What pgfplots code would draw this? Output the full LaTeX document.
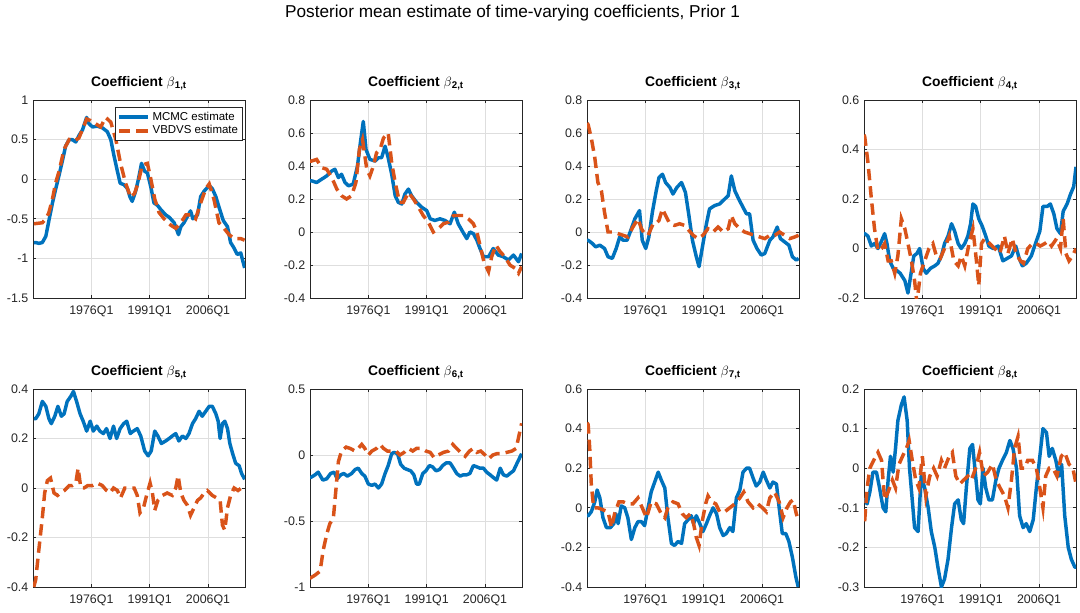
\documentclass[border=0pt]{standalone}
\usepackage{fontspec}
\setmainfont{Liberation Sans}
\usepackage{pgfplots}
\pgfplotsset{compat=1.18}
\definecolor{mblue}{rgb}{0,0.447,0.741}
\definecolor{morange}{rgb}{0.85,0.325,0.098}
\definecolor{axgray}{rgb}{0.15,0.15,0.15}
\definecolor{gridgray}{rgb}{0.87,0.87,0.87}
\pgfplotsset{
  coef/.style={
    scale only axis, width=159pt, height=148.5pt,
    xmin=1961, xmax=2015.5,
    xtick={1976,1991,2006}, xticklabels={1976Q1,1991Q1,2006Q1},
    grid=major, major grid style={gridgray, line width=0.5pt},
    axis line style={axgray, line width=0.6pt},
    every tick/.style={axgray, line width=0.5pt},
    tick align=inside, major tick length=2pt,
    ticklabel style={font=\fontsize{9.3}{10}\selectfont, text=axgray},
    xticklabel style={yshift=-2pt},
    /pgf/number format/assume math mode=true,
    yticklabel style={/pgf/number format/fixed},
    every axis title/.style={at={(0.5,1)}, anchor=base, yshift=10.5pt, font=\bfseries\fontsize{10.4}{12}\selectfont},
  },
  mc/.style={mblue, line width=2.6pt, no markers, line join=round},
  vb/.style={morange, line width=2.6pt, no markers, dash pattern=on 8.5pt off 4.5pt},
}
\begin{document}
\begin{tikzpicture}
\useasboundingbox (0,0) rectangle (810pt,459pt);
\node[anchor=base, font=\fontsize{12.9}{14}\selectfont] at (384.4pt,445.5pt) {Posterior mean estimate of time-varying coefficients, Prior 1};

% ---------- Plot 1
\begin{axis}[coef, at={(24.75pt,235.5pt)}, anchor=south west,
  ymin=-1.5, ymax=1, ytick={-1.5,-1,-0.5,0,0.5,1},
  title={Coefficient $\beta$\textsubscript{1,t}},
  legend style={at={(1,1)}, anchor=north east, xshift=-1.5pt, yshift=-5.25pt, draw=axgray, line width=0.5pt, font=\fontsize{8.6}{9.5}\selectfont, inner sep=1.5pt, row sep=-1.5pt},
  legend cell align=left,
  legend image code/.code={\draw[#1] (0pt,0pt) -- (22pt,0pt);}]
\addplot[mc] coordinates {(1961.2,-0.80)(1961.7,-0.80)(1962.5,-0.81)(1963.4,-0.80)(1964.3,-0.72)(1965.1,-0.52)(1966.0,-0.30)(1966.8,-0.13)(1967.7,0.05)(1968.5,0.22)(1969.4,0.42)(1970.3,0.50)(1971.1,0.50)(1972.0,0.47)(1972.8,0.55)(1973.7,0.62)(1974.8,0.78)(1975.4,0.70)(1976.3,0.66)(1977.5,0.67)(1978.8,0.65)(1980.1,0.60)(1981.0,0.50)(1981.8,0.30)(1982.7,0.10)(1983.4,-0.05)(1984.4,-0.07)(1985.3,-0.12)(1985.9,-0.22)(1986.5,-0.28)(1987.4,-0.15)(1988.1,0.00)(1988.9,0.20)(1989.7,0.10)(1990.4,0.08)(1991.3,-0.10)(1992.1,-0.30)(1993.0,-0.33)(1993.8,-0.38)(1995.1,-0.45)(1996.0,-0.48)(1997.3,-0.55)(1998.4,-0.70)(1999.0,-0.60)(1999.8,-0.55)(2000.7,-0.47)(2001.5,-0.40)(2002.1,-0.50)(2003.3,-0.45)(2004.1,-0.22)(2005.0,-0.15)(2006.3,-0.08)(2007.1,-0.12)(2008.0,-0.22)(2008.8,-0.35)(2009.9,-0.52)(2011.0,-0.60)(2011.8,-0.80)(2012.7,-0.87)(2013.5,-0.95)(2014.4,-0.93)(2015.4,-1.12)};
\addplot[vb] coordinates {(1961.2,-0.56)(1961.7,-0.56)(1963.4,-0.55)(1964.3,-0.50)(1965.1,-0.42)(1966.0,-0.25)(1966.8,-0.05)(1967.7,0.10)(1969.0,0.38)(1970.3,0.50)(1971.5,0.48)(1972.8,0.52)(1973.9,0.65)(1974.8,0.76)(1975.8,0.74)(1977.1,0.70)(1978.4,0.66)(1979.7,0.78)(1981.0,0.72)(1982.3,0.50)(1983.5,0.20)(1984.8,-0.05)(1986.1,-0.23)(1987.1,-0.18)(1988.0,-0.05)(1989.1,0.18)(1990.4,0.20)(1991.3,0.00)(1992.3,-0.25)(1993.4,-0.42)(1994.7,-0.50)(1996.4,-0.58)(1997.7,-0.62)(1999.0,-0.55)(2000.3,-0.45)(2001.5,-0.45)(2002.8,-0.50)(2004.1,-0.30)(2005.4,-0.12)(2006.3,-0.06)(2007.5,-0.25)(2008.8,-0.55)(2010.1,-0.62)(2011.4,-0.70)(2012.7,-0.75)(2014.4,-0.75)(2015.4,-0.77)};
\legend{MCMC estimate, VBDVS estimate}
\end{axis}

% ---------- Plot 2
\begin{axis}[coef, at={(232.5pt,235.5pt)}, anchor=south west,
  ymin=-0.4, ymax=0.8, ytick={-0.4,-0.2,0,0.2,0.4,0.6,0.8},
  title={Coefficient $\beta$\textsubscript{2,t}}]
\addplot[mc] coordinates {(1961.0,0.31)(1961.4,0.31)(1962.7,0.30)(1964.0,0.32)(1965.3,0.34)(1966.6,0.37)(1967.4,0.38)(1968.3,0.33)(1969.1,0.35)(1970.0,0.30)(1970.9,0.28)(1972.1,0.29)(1973.2,0.40)(1974.0,0.55)(1974.7,0.67)(1975.4,0.50)(1976.4,0.44)(1977.7,0.43)(1978.6,0.45)(1979.4,0.45)(1980.3,0.52)(1981.1,0.45)(1982.0,0.35)(1982.9,0.22)(1983.7,0.18)(1984.6,0.17)(1985.4,0.23)(1986.3,0.26)(1987.1,0.22)(1988.4,0.18)(1989.7,0.15)(1991.0,0.13)(1991.9,0.08)(1993.1,0.07)(1994.4,0.08)(1995.7,0.07)(1997.0,0.05)(1998.1,0.12)(1999.1,0.05)(2000.3,0.00)(2001.3,-0.04)(2002.1,0.00)(2003.0,-0.01)(2003.9,-0.05)(2004.7,-0.10)(2005.6,-0.15)(2006.9,-0.15)(2008.1,-0.10)(2009.4,-0.14)(2010.7,-0.15)(2012.0,-0.17)(2013.3,-0.14)(2014.6,-0.18)(2015.4,-0.13)};
\addplot[vb] coordinates {(1961.0,0.43)(1961.4,0.43)(1962.7,0.44)(1964.0,0.39)(1965.3,0.38)(1966.6,0.33)(1967.9,0.26)(1969.1,0.22)(1970.4,0.20)(1971.7,0.22)(1972.8,0.30)(1973.7,0.50)(1974.5,0.56)(1975.6,0.38)(1976.4,0.34)(1977.3,0.40)(1978.1,0.48)(1979.0,0.50)(1979.9,0.57)(1981.1,0.60)(1982.0,0.42)(1982.9,0.30)(1984.0,0.18)(1985.0,0.18)(1986.3,0.24)(1987.6,0.20)(1988.9,0.15)(1990.1,0.10)(1991.4,0.06)(1992.7,0.00)(1994.0,0.02)(1995.3,0.05)(1996.6,0.06)(1997.9,0.10)(1999.1,0.10)(2000.4,0.10)(2001.7,0.08)(2003.0,0.05)(2003.9,0.00)(2004.7,-0.08)(2005.7,-0.18)(2006.9,-0.24)(2007.7,-0.15)(2008.8,-0.08)(2009.9,-0.12)(2011.1,-0.15)(2012.4,-0.20)(2013.7,-0.22)(2014.6,-0.25)(2015.4,-0.21)};
\end{axis}

% ---------- Plot 3
\begin{axis}[coef, at={(440.25pt,235.5pt)}, anchor=south west,
  ymin=-0.4, ymax=0.8, ytick={-0.4,-0.2,0,0.2,0.4,0.6,0.8},
  title={Coefficient $\beta$\textsubscript{3,t}}]
\addplot[mc] coordinates {(1961.0,-0.05)(1961.3,-0.05)(1962.4,-0.07)(1963.2,-0.09)(1964.3,-0.08)(1965.5,-0.10)(1966.4,-0.15)(1967.5,-0.16)(1968.5,-0.10)(1969.4,-0.03)(1970.3,-0.05)(1971.3,-0.05)(1972.1,0.00)(1973.3,0.08)(1974.5,0.13)(1975.2,-0.05)(1976.1,-0.10)(1976.9,-0.03)(1977.8,0.12)(1978.8,0.25)(1979.5,0.33)(1980.4,0.35)(1981.2,0.30)(1982.3,0.27)(1983.1,0.23)(1984.1,0.27)(1985.3,0.30)(1986.3,0.24)(1987.2,0.10)(1988.1,-0.05)(1989.1,-0.15)(1989.8,-0.21)(1990.6,-0.10)(1991.7,0.05)(1992.5,0.14)(1993.8,0.16)(1995.1,0.17)(1996.4,0.20)(1997.3,0.22)(1998.1,0.34)(1999.0,0.25)(2000.0,0.20)(2001.1,0.15)(2002.0,0.11)(2002.8,0.11)(2003.7,-0.05)(2004.7,-0.10)(2005.8,-0.14)(2006.7,-0.13)(2008.0,-0.05)(2008.8,-0.03)(2009.9,0.03)(2010.7,-0.04)(2011.8,-0.06)(2012.9,-0.08)(2013.8,-0.15)(2014.8,-0.17)(2015.4,-0.16)};
\addplot[vb] coordinates {(1961.0,0.66)(1961.3,0.65)(1962.1,0.57)(1963.0,0.45)(1963.8,0.30)(1964.7,0.25)(1965.5,0.12)(1966.4,0.00)(1967.7,0.00)(1969.0,-0.01)(1970.3,-0.02)(1971.5,-0.03)(1972.8,0.03)(1974.1,0.08)(1975.0,0.02)(1975.8,-0.01)(1976.7,-0.02)(1978.0,0.05)(1978.7,0.05)(1979.5,0.07)(1980.4,0.14)(1981.2,0.10)(1982.3,0.05)(1983.5,0.04)(1984.8,0.05)(1986.1,0.04)(1987.2,0.01)(1988.3,-0.02)(1989.5,-0.04)(1990.8,-0.02)(1992.1,0.02)(1993.4,0.00)(1994.7,0.03)(1996.0,0.00)(1997.3,0.02)(1998.1,0.10)(1999.0,0.05)(2000.3,0.02)(2001.5,0.00)(2002.8,-0.01)(2004.1,-0.02)(2005.4,-0.03)(2006.7,-0.04)(2008.0,-0.02)(2009.3,-0.02)(2010.5,0.00)(2011.8,-0.02)(2013.1,-0.04)(2014.4,-0.03)(2015.4,-0.02)};
\end{axis}

% ---------- Plot 4
\begin{axis}[coef, at={(648pt,235.5pt)}, anchor=south west,
  ymin=-0.2, ymax=0.6, ytick={-0.2,0,0.2,0.4,0.6},
  title={Coefficient $\beta$\textsubscript{4,t}}]
\addplot[mc] coordinates {(1961.0,0.06)(1961.2,0.06)(1962.0,0.05)(1962.9,0.01)(1963.7,0.02)(1964.6,0.00)(1965.5,0.03)(1966.3,0.06)(1966.9,0.02)(1967.6,-0.05)(1968.5,-0.08)(1969.5,-0.09)(1970.3,-0.10)(1971.5,-0.13)(1972.3,-0.18)(1972.9,-0.12)(1973.8,-0.03)(1974.6,-0.02)(1975.3,0.00)(1976.2,-0.08)(1977.0,-0.10)(1978.1,-0.08)(1979.2,-0.07)(1980.0,-0.06)(1980.9,-0.03)(1981.7,0.02)(1982.6,0.05)(1983.5,0.10)(1984.3,0.07)(1985.2,0.02)(1986.0,0.00)(1986.9,0.02)(1987.7,0.05)(1988.4,0.10)(1989.0,0.18)(1989.7,0.17)(1990.5,0.12)(1991.4,0.09)(1992.3,0.05)(1993.1,0.01)(1994.2,0.00)(1995.5,0.01)(1996.7,-0.05)(1997.8,-0.04)(1998.9,-0.03)(2000.0,0.01)(2000.9,-0.04)(2001.7,-0.07)(2002.7,-0.06)(2004.0,-0.03)(2005.3,0.03)(2006.2,0.07)(2007.0,0.17)(2008.1,0.17)(2008.9,0.18)(2009.8,0.14)(2010.6,0.08)(2011.5,0.06)(2012.2,0.15)(2013.2,0.18)(2014.1,0.22)(2014.9,0.25)(2015.5,0.33)};
\addplot[vb] coordinates {(1961.0,0.46)(1961.2,0.45)(1962.0,0.35)(1962.9,0.20)(1963.7,0.08)(1964.6,-0.01)(1965.5,0.00)(1966.3,0.02)(1967.2,-0.05)(1968.0,-0.05)(1968.9,-0.10)(1969.7,-0.03)(1970.6,0.12)(1971.5,0.08)(1972.3,0.02)(1973.2,-0.05)(1974.0,-0.13)(1974.6,-0.22)(1975.5,-0.10)(1976.6,-0.05)(1977.7,0.00)(1978.7,0.02)(1979.6,-0.03)(1980.6,-0.04)(1981.7,0.00)(1982.9,0.05)(1984.1,-0.05)(1985.2,-0.07)(1986.0,-0.03)(1986.9,-0.07)(1988.0,0.02)(1989.0,0.08)(1989.9,-0.05)(1990.5,-0.15)(1991.2,0.02)(1992.0,0.04)(1993.3,0.02)(1994.6,0.00)(1995.9,-0.02)(1997.1,0.05)(1998.0,-0.02)(1999.1,0.04)(2000.1,-0.02)(2001.2,-0.05)(2002.0,-0.06)(2003.1,0.00)(2004.3,0.02)(2005.3,0.02)(2006.3,0.01)(2007.5,0.02)(2008.3,0.03)(2009.2,0.01)(2010.5,0.04)(2011.5,0.00)(2012.2,0.12)(2012.9,-0.02)(2013.7,-0.05)(2014.6,-0.03)(2015.5,0.00)};
\end{axis}

% ---------- Plot 5
\begin{axis}[coef, at={(24.75pt,18.75pt)}, anchor=south west,
  ymin=-0.4, ymax=0.4, ytick={-0.4,-0.2,0,0.2,0.4},
  title={Coefficient $\beta$\textsubscript{5,t}}]
\addplot[mc] coordinates {(1961.2,0.28)(1961.7,0.28)(1962.5,0.30)(1963.4,0.35)(1964.3,0.33)(1965.1,0.28)(1965.7,0.26)(1966.6,0.29)(1967.4,0.33)(1968.3,0.29)(1969.0,0.30)(1969.8,0.35)(1970.7,0.37)(1971.4,0.39)(1972.2,0.35)(1973.1,0.30)(1973.9,0.27)(1974.8,0.23)(1975.7,0.27)(1976.5,0.23)(1977.4,0.25)(1978.2,0.23)(1979.1,0.22)(1979.9,0.24)(1980.8,0.20)(1981.7,0.25)(1982.5,0.20)(1983.4,0.24)(1984.3,0.26)(1985.1,0.27)(1986.0,0.22)(1986.8,0.23)(1987.8,0.24)(1988.7,0.21)(1989.7,0.15)(1990.6,0.13)(1991.4,0.15)(1992.3,0.23)(1993.1,0.21)(1994.0,0.18)(1995.1,0.19)(1996.0,0.20)(1996.8,0.21)(1997.7,0.22)(1998.5,0.19)(1999.4,0.21)(2000.3,0.20)(2001.1,0.22)(2002.0,0.26)(2002.8,0.28)(2003.7,0.31)(2004.5,0.29)(2005.4,0.31)(2006.3,0.33)(2007.1,0.33)(2008.0,0.30)(2008.6,0.27)(2009.1,0.20)(2009.7,0.26)(2010.3,0.27)(2011.0,0.24)(2011.6,0.18)(2012.3,0.14)(2013.1,0.10)(2014.0,0.09)(2014.6,0.06)(2015.4,0.035)};
\addplot[vb] coordinates {(1961.2,-0.40)(1961.7,-0.37)(1962.5,-0.25)(1963.4,-0.12)(1964.0,-0.02)(1964.7,0.03)(1965.5,0.04)(1966.4,-0.02)(1967.3,-0.03)(1968.1,-0.02)(1969.1,-0.01)(1970.3,0.01)(1971.1,0.01)(1972.0,0.02)(1972.6,0.08)(1973.3,0.00)(1974.1,0.00)(1975.1,0.01)(1976.3,0.01)(1977.5,0.02)(1978.8,0.01)(1979.9,-0.01)(1980.8,-0.02)(1981.7,0.00)(1982.7,-0.01)(1983.5,-0.04)(1984.6,0.00)(1985.7,0.00)(1987.0,0.00)(1987.8,-0.03)(1988.5,-0.10)(1989.4,-0.08)(1990.2,-0.03)(1991.1,0.02)(1991.7,-0.02)(1992.3,-0.09)(1993.1,-0.05)(1994.3,-0.03)(1995.5,-0.02)(1996.8,-0.03)(1997.7,0.00)(1998.3,0.05)(1999.0,-0.02)(1999.8,-0.05)(2000.7,-0.07)(2001.5,-0.11)(2002.4,-0.08)(2003.3,-0.05)(2004.1,-0.04)(2005.0,-0.02)(2005.8,-0.01)(2007.1,-0.03)(2008.2,-0.04)(2009.1,-0.05)(2009.7,-0.15)(2010.3,-0.17)(2011.0,-0.08)(2011.8,-0.03)(2012.7,0.00)(2013.7,-0.01)(2014.6,0.00)(2015.4,0.00)};
\end{axis}

% ---------- Plot 6
\begin{axis}[coef, at={(232.5pt,18.75pt)}, anchor=south west,
  ymin=-1, ymax=0.5, ytick={-1,-0.5,0,0.5},
  title={Coefficient $\beta$\textsubscript{6,t}}]
\addplot[mc] coordinates {(1961.0,-0.17)(1961.2,-0.17)(1962.3,-0.15)(1963.1,-0.13)(1964.3,-0.19)(1965.3,-0.18)(1966.3,-0.14)(1967.2,-0.13)(1968.0,-0.18)(1968.9,-0.15)(1969.7,-0.14)(1970.6,-0.16)(1971.7,-0.14)(1972.6,-0.11)(1973.4,-0.10)(1974.3,-0.14)(1975.1,-0.16)(1976.0,-0.22)(1976.9,-0.23)(1977.7,-0.22)(1978.6,-0.25)(1979.4,-0.22)(1980.3,-0.14)(1981.1,-0.08)(1982.0,0.01)(1982.6,0.02)(1983.5,0.01)(1984.3,-0.07)(1985.2,-0.10)(1986.0,-0.11)(1986.9,-0.12)(1987.7,-0.15)(1988.4,-0.22)(1989.1,-0.22)(1990.0,-0.14)(1990.8,-0.12)(1991.7,-0.08)(1992.5,-0.09)(1993.4,-0.12)(1994.3,-0.11)(1995.1,-0.08)(1996.0,-0.06)(1997.0,-0.06)(1997.9,-0.10)(1998.7,-0.14)(1999.6,-0.16)(2000.4,-0.15)(2001.3,-0.15)(2002.1,-0.14)(2003.0,-0.08)(2003.9,-0.09)(2004.7,-0.10)(2005.6,-0.10)(2006.4,-0.13)(2007.3,-0.15)(2008.1,-0.17)(2009.0,-0.19)(2009.9,-0.10)(2010.7,-0.15)(2011.6,-0.16)(2012.4,-0.14)(2013.3,-0.12)(2014.1,-0.07)(2015.4,0.01)};
\addplot[vb] coordinates {(1961.0,-0.93)(1961.2,-0.93)(1962.3,-0.91)(1963.6,-0.88)(1964.4,-0.72)(1965.3,-0.60)(1966.1,-0.52)(1967.0,-0.48)(1967.7,-0.25)(1968.3,-0.05)(1969.1,0.03)(1970.3,0.06)(1971.3,0.05)(1972.6,0.03)(1973.4,0.05)(1974.3,0.08)(1975.1,0.05)(1976.0,0.00)(1976.9,0.03)(1978.1,0.05)(1979.0,0.08)(1979.9,0.05)(1980.9,0.03)(1982.0,0.03)(1983.1,0.03)(1984.1,0.00)(1985.2,0.02)(1986.3,0.05)(1987.4,0.03)(1988.4,0.05)(1989.7,0.05)(1990.8,0.03)(1991.9,0.02)(1992.9,-0.02)(1994.0,0.00)(1995.3,0.02)(1996.6,0.03)(1997.7,0.08)(1998.7,0.05)(1999.7,0.02)(2000.9,-0.01)(2002.0,0.03)(2003.0,0.05)(2003.9,0.02)(2004.9,0.03)(2006.0,0.00)(2006.9,-0.03)(2008.0,0.00)(2009.0,0.01)(2010.3,0.01)(2011.6,0.02)(2012.9,0.03)(2014.0,0.05)(2015.4,0.24)};
\end{axis}

% ---------- Plot 7
\begin{axis}[coef, at={(440.25pt,18.75pt)}, anchor=south west,
  ymin=-0.4, ymax=0.6, ytick={-0.4,-0.2,0,0.2,0.4,0.6},
  title={Coefficient $\beta$\textsubscript{7,t}}]
\addplot[mc] coordinates {(1961.0,-0.04)(1961.3,-0.04)(1962.1,-0.02)(1963.0,0.03)(1963.6,0.09)(1964.3,0.05)(1965.1,-0.05)(1966.0,-0.10)(1967.0,-0.10)(1967.9,-0.08)(1968.4,-0.03)(1969.0,-0.08)(1969.8,0.01)(1970.7,0.00)(1971.5,-0.05)(1972.4,-0.16)(1973.3,-0.10)(1974.1,-0.07)(1975.0,-0.07)(1975.8,-0.09)(1976.7,0.00)(1977.5,0.08)(1978.4,0.13)(1979.3,0.18)(1980.1,0.14)(1981.0,0.10)(1981.8,-0.05)(1982.7,-0.18)(1983.5,-0.19)(1984.4,-0.17)(1985.3,-0.18)(1986.1,-0.08)(1987.0,-0.06)(1987.8,-0.04)(1988.4,-0.08)(1989.1,-0.04)(1990.0,-0.08)(1990.8,-0.12)(1991.7,-0.08)(1992.5,-0.04)(1993.4,0.00)(1994.3,-0.03)(1995.1,-0.10)(1996.0,-0.14)(1996.8,-0.13)(1997.7,-0.10)(1998.5,-0.12)(1999.4,0.05)(2000.3,0.09)(2001.1,0.18)(2002.0,0.20)(2002.8,0.20)(2003.7,0.15)(2004.5,0.11)(2005.4,0.13)(2006.3,0.18)(2007.1,0.14)(2008.0,0.10)(2008.8,0.13)(2009.7,0.12)(2010.4,0.00)(2011.2,-0.13)(2012.1,-0.13)(2012.9,-0.17)(2013.8,-0.25)(2014.7,-0.35)(2015.3,-0.40)};
\addplot[vb] coordinates {(1961.0,0.43)(1961.3,0.42)(1961.7,0.30)(1962.1,0.12)(1962.7,0.00)(1963.8,0.00)(1965.1,-0.01)(1966.4,-0.02)(1967.3,-0.10)(1968.1,-0.03)(1969.2,0.03)(1970.3,0.03)(1971.5,0.02)(1972.8,0.02)(1974.1,0.05)(1975.2,0.00)(1976.3,-0.05)(1977.5,0.03)(1978.8,0.02)(1980.1,-0.03)(1981.0,-0.05)(1981.8,0.00)(1983.1,0.03)(1984.4,0.02)(1985.5,-0.03)(1986.5,-0.05)(1987.6,-0.03)(1988.4,-0.08)(1989.1,-0.15)(1989.8,-0.19)(1990.6,-0.07)(1991.5,0.02)(1992.1,0.06)(1993.0,0.03)(1994.1,0.02)(1995.1,-0.02)(1996.4,-0.02)(1997.7,0.00)(1999.0,0.02)(2000.3,0.05)(2001.3,0.08)(2002.4,0.03)(2003.7,0.00)(2004.9,0.02)(2006.1,0.00)(2007.1,-0.02)(2008.0,0.05)(2009.2,0.08)(2010.4,0.03)(2011.4,-0.05)(2012.4,0.00)(2013.3,0.03)(2014.0,0.04)(2014.8,-0.03)(2015.5,-0.07)};
\end{axis}

% ---------- Plot 8
\begin{axis}[coef, at={(648pt,18.75pt)}, anchor=south west,
  ymin=-0.3, ymax=0.2, ytick={-0.3,-0.2,-0.1,0,0.1,0.2},
  title={Coefficient $\beta$\textsubscript{8,t}}]
\addplot[mc] coordinates {(1961.0,-0.08)(1961.2,-0.08)(1961.8,-0.09)(1962.5,-0.06)(1963.3,-0.01)(1964.2,-0.01)(1965.0,-0.05)(1965.9,-0.10)(1966.6,-0.11)(1967.2,-0.03)(1967.8,0.03)(1968.5,-0.01)(1969.1,0.05)(1969.7,0.12)(1970.6,0.16)(1971.3,0.18)(1972.1,0.12)(1972.7,0.00)(1973.4,-0.08)(1974.0,-0.15)(1974.9,-0.16)(1975.7,-0.02)(1976.6,-0.05)(1977.5,-0.10)(1978.3,-0.16)(1979.2,-0.20)(1980.0,-0.25)(1980.9,-0.30)(1981.7,-0.28)(1982.6,-0.23)(1983.5,-0.15)(1984.3,-0.09)(1985.2,-0.08)(1986.0,-0.13)(1986.6,-0.14)(1987.3,-0.05)(1988.2,0.05)(1988.9,0.06)(1989.7,-0.02)(1990.3,-0.08)(1990.9,-0.09)(1991.6,0.00)(1992.3,-0.05)(1993.1,-0.08)(1994.0,-0.08)(1994.9,-0.03)(1995.7,0.00)(1996.6,0.02)(1997.6,0.04)(1998.5,0.07)(1999.3,0.05)(2000.2,0.00)(2001.0,-0.12)(2001.9,-0.15)(2002.7,-0.14)(2003.6,-0.16)(2004.5,-0.13)(2005.3,-0.05)(2006.2,0.03)(2007.0,0.10)(2007.9,0.09)(2008.6,0.03)(2009.4,0.05)(2010.3,0.02)(2011.1,-0.02)(2011.8,0.01)(2012.6,-0.12)(2013.5,-0.20)(2014.3,-0.23)(2015.2,-0.25)(2015.5,-0.25)};
\addplot[vb] coordinates {(1961.0,-0.13)(1961.2,-0.13)(1961.8,-0.05)(1962.5,0.00)(1963.5,0.02)(1964.6,0.04)(1965.5,0.02)(1966.3,-0.08)(1967.2,-0.06)(1968.3,-0.03)(1969.1,-0.05)(1970.0,0.01)(1970.9,0.03)(1971.9,0.05)(1972.6,0.07)(1973.4,0.02)(1974.3,-0.03)(1975.1,-0.05)(1976.0,0.03)(1976.9,-0.07)(1977.9,-0.02)(1978.9,0.00)(1979.8,-0.02)(1980.9,0.02)(1981.7,0.00)(1982.9,0.03)(1983.7,0.04)(1984.6,-0.02)(1985.6,-0.04)(1986.6,-0.03)(1987.7,-0.02)(1988.6,-0.03)(1989.7,0.00)(1990.7,0.04)(1991.7,-0.02)(1992.8,-0.01)(1994.0,0.01)(1995.0,-0.03)(1996.0,-0.05)(1997.1,-0.07)(1998.0,-0.10)(1998.9,-0.03)(1999.7,0.05)(2000.6,0.08)(2001.4,0.00)(2002.3,0.00)(2003.1,0.02)(2004.3,0.02)(2005.3,0.00)(2006.2,-0.05)(2007.0,-0.10)(2007.7,-0.02)(2008.6,0.00)(2009.6,0.00)(2010.6,-0.02)(2011.7,0.03)(2012.6,0.04)(2013.7,0.01)(2014.7,0.00)(2015.5,-0.04)};
\end{axis}
\end{tikzpicture}
\end{document}
